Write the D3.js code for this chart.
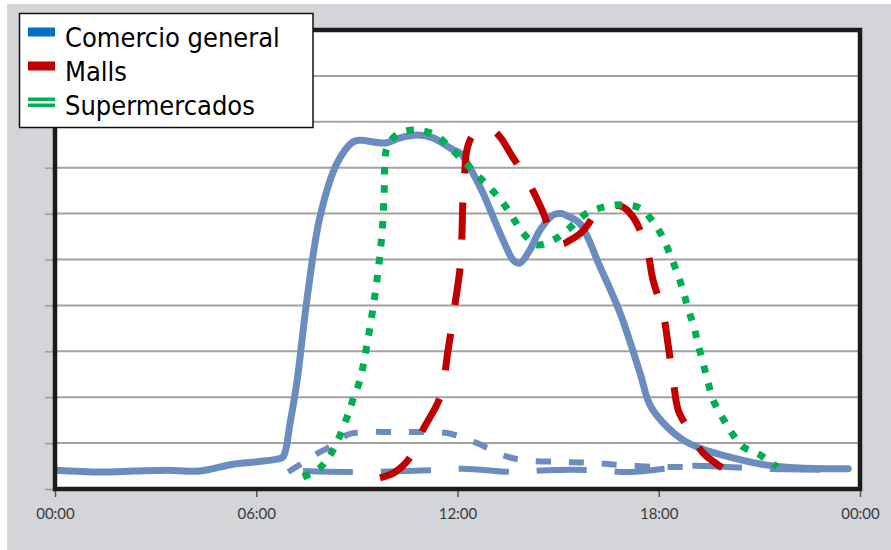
<!DOCTYPE html>
<html>
<head>
<meta charset="utf-8">
<script src="https://cdn.jsdelivr.net/npm/d3@7"></script>
<style>
  html, body { margin: 0; padding: 0; background: #ffffff; }
  svg { display: block; }
</style>
</head>
<body>
<svg id="chart" width="891" height="550"></svg>
<script>
// ---------- DATA ----------
const xTickValues = [0, 6, 12, 18, 24];
const xTickLabels = ["00:00", "06:00", "12:00", "18:00", "00:00"];
const gridValues = [1, 2, 3, 4, 5, 6, 7, 8, 9];
const yTickValues = [0, 1, 2, 3, 4, 5, 6, 7, 8, 9];

const legendLabels = ["Comercio general", "Malls", "Supermercados"];

// Comercio general (solid line)
const comercioHours = [0.05,1.34,2.33,3.34,4.32,5.31,5.99,6.62,6.8,7.01,7.22,7.51,7.9,8.41,8.88,9.09,9.84,10.29,10.82,11.27,11.87,12.08,12.46,12.76,13.06,13.36,13.66,13.86,14.16,14.46,14.85,15.1,15.27,15.65,16.25,16.85,17.44,17.74,18.25,18.72,19.23,20.21,21.23,22.21,23.65];
const comercioValues = [0.41,0.37,0.39,0.41,0.39,0.54,0.59,0.65,0.7,1.44,2.37,4.12,5.93,7.1,7.56,7.6,7.54,7.65,7.71,7.65,7.39,7.32,6.88,6.45,5.93,5.42,4.99,4.92,5.21,5.64,5.97,6.0,5.95,5.78,4.84,3.83,2.53,1.83,1.35,1.07,0.89,0.68,0.52,0.46,0.44];

// Low dashed line (long dashes)
const baseLowHours = [7.39,8.85,11.27,12.16,13.78,14.67,16.16,17.14,18.87,19.44,21.11,23.64];
const baseLowValues = [0.39,0.37,0.41,0.44,0.37,0.41,0.41,0.37,0.5,0.5,0.44,0.41];

// Small bump dashed line (short dashes)
const bumpHours = [6.95,7.39,7.84,8.35,8.71,9.15,10.14,11.12,11.69,12.13,12.58,13.03,13.51,13.95,14.97,15.95,16.91,18.04,18.93];
const bumpValues = [0.37,0.57,0.78,0.98,1.18,1.24,1.24,1.24,1.22,1.13,1.0,0.85,0.7,0.63,0.59,0.57,0.52,0.48,0.48];

// Malls (red long dash)
const mallsHours = [9.69,10.14,10.58,10.97,11.48,11.72,11.93,12.08,12.13,12.16,12.22,12.28,12.46,12.73,13.03,13.27,13.57,14.16,14.55,14.82,15.1,15.35,15.71,16.16,16.49,16.85,17.23,17.65,17.83,18.13,18.28,18.43,18.58,18.84,19.08,19.38,19.68,19.89];
const mallsValues = [0.24,0.37,0.68,1.29,2.0,3.03,4.05,4.84,5.49,6.25,6.95,7.39,7.71,7.82,7.82,7.67,7.32,6.62,6.03,5.53,5.34,5.42,5.6,6.01,6.12,6.17,5.93,5.21,4.55,3.83,3.14,2.37,1.72,1.35,1.02,0.74,0.57,0.46];

// Supermercados (green dotted)
const superHours = [7.39,7.9,8.29,8.71,8.88,9.09,9.3,9.48,9.63,9.75,9.81,9.84,9.9,10.08,10.29,10.82,11.39,11.78,12.22,12.58,12.97,13.36,13.66,13.95,14.37,14.85,15.27,15.86,16.34,16.85,17.44,17.83,18.13,18.34,18.55,18.72,18.87,19.05,19.17,19.32,19.47,19.62,19.89,20.18,20.51,21.02,21.53];
const superValues = [0.26,0.46,0.85,1.57,1.94,2.37,3.14,3.94,4.73,5.58,6.38,7.21,7.45,7.65,7.76,7.82,7.69,7.43,7.12,6.84,6.56,6.23,5.9,5.58,5.32,5.42,5.64,6.01,6.14,6.19,6.12,5.82,5.47,5.1,4.71,4.34,3.94,3.53,3.16,2.75,2.33,1.94,1.57,1.22,0.92,0.74,0.48];

// ---------- LAYOUT ----------
const svg = d3.select("#chart");
const W = 891, H = 550;
const plotLeft = 55, plotRight = 860, plotTop = 30, plotBottom = 489;

const x = d3.scaleLinear().domain([0, 24]).range([plotLeft, plotRight]);
const y = d3.scaleLinear().domain([0, 10]).range([plotBottom, plotTop]);

// outer gray background
svg.append("rect").attr("x", 7).attr("y", 4).attr("width", W - 7).attr("height", H - 4)
  .attr("fill", "#d4d5d8");

// plot area
svg.append("rect").attr("x", x(0)).attr("y", y(10))
  .attr("width", x(24) - x(0)).attr("height", y(0) - y(10)).attr("fill", "#ffffff");

// gridlines
svg.append("g").selectAll("line").data(gridValues).join("line")
  .attr("x1", x(0)).attr("x2", x(24))
  .attr("y1", d => y(d)).attr("y2", d => y(d))
  .attr("stroke", "#a2a2a2").attr("stroke-width", 2);

// left ticks
const yAxis = d3.axisLeft(y).tickValues(yTickValues).tickSize(10).tickFormat("");
const gy = svg.append("g").attr("transform", `translate(${x(0)},0)`).call(yAxis);
gy.select(".domain").remove();
gy.selectAll(".tick line").attr("stroke", "#9a9a9a").attr("stroke-width", 1.5);

// bottom axis
const xAxis = d3.axisBottom(x).tickValues(xTickValues)
  .tickFormat((d, i) => xTickLabels[i]).tickSize(8).tickPadding(11);
const gx = svg.append("g").attr("transform", `translate(0,${y(0)})`).call(xAxis);
gx.select(".domain").remove();
gx.selectAll(".tick line").attr("stroke", "#555").attr("stroke-width", 1.5);
gx.selectAll(".tick text").attr("font-family", "Lato, 'DejaVu Sans', sans-serif")
  .attr("font-size", 15).attr("fill", "#3a3a3a");

// clip
svg.append("clipPath").attr("id", "plotclip").append("rect")
  .attr("x", x(0)).attr("y", y(10)).attr("width", x(24) - x(0)).attr("height", y(0) - y(10));

const line = d3.line().x(d => x(d[0])).y(d => y(d[1])).curve(d3.curveCatmullRom.alpha(0.5));
const zipS = (hs, vs) => hs.map((h, i) => [h, vs[i]]);

const series = svg.append("g").attr("clip-path", "url(#plotclip)");

series.append("path").datum(zipS(baseLowHours, baseLowValues))
  .attr("d", line).attr("fill", "none").attr("stroke", "#6b8cbe")
  .attr("stroke-width", 6).attr("stroke-dasharray", "50,28");

series.append("path").datum(zipS(bumpHours, bumpValues))
  .attr("d", line).attr("fill", "none").attr("stroke", "#6b8cbe")
  .attr("stroke-width", 6).attr("stroke-dasharray", "15,18");

series.append("path").datum(zipS(comercioHours, comercioValues))
  .attr("d", line).attr("fill", "none").attr("stroke", "#6b8cbe")
  .attr("stroke-width", 7).attr("stroke-linejoin", "round").attr("stroke-linecap", "round");

series.append("path").datum(zipS(mallsHours, mallsValues))
  .attr("d", line).attr("fill", "none").attr("stroke", "#c00000")
  .attr("stroke-width", 7).attr("stroke-dasharray", "37,29");

series.append("path").datum(zipS(superHours, superValues))
  .attr("d", line).attr("fill", "none").attr("stroke", "#00b050")
  .attr("stroke-width", 7).attr("stroke-dasharray", "7.5,10.5");

// frame
svg.append("rect").attr("x", x(0)).attr("y", y(10))
  .attr("width", x(24) - x(0)).attr("height", y(0) - y(10))
  .attr("fill", "none").attr("stroke", "#1b1b1b").attr("stroke-width", 4.5);

// legend
const lg = svg.append("g");
lg.append("rect").attr("x", 19.5).attr("y", 13.5).attr("width", 293.5).attr("height", 114)
  .attr("fill", "#ffffff").attr("stroke", "#111").attr("stroke-width", 1.5);
const legendColors = ["#0070c0", "#c00000", "#00b050"];
const rowBase = [47, 81, 115];
legendLabels.forEach((lab, i) => {
  if (i < 2) {
    lg.append("rect").attr("x", 28).attr("y", rowBase[i] - 19.5).attr("width", 27).attr("height", 9)
      .attr("fill", legendColors[i]);
  } else {
    lg.append("rect").attr("x", 28).attr("y", rowBase[i] - 17.5).attr("width", 27).attr("height", 3.5)
      .attr("fill", legendColors[i]);
    lg.append("rect").attr("x", 28).attr("y", rowBase[i] - 11.5).attr("width", 27).attr("height", 3.5)
      .attr("fill", legendColors[i]);
  }
  lg.append("text").attr("x", 65).attr("y", rowBase[i]).text(lab)
    .attr("font-family", "'DejaVu Sans Condensed', 'DejaVu Sans', sans-serif")
    .attr("font-stretch", "condensed")
    .attr("font-size", 27).attr("fill", "#000");
});
</script>
</body>
</html>
